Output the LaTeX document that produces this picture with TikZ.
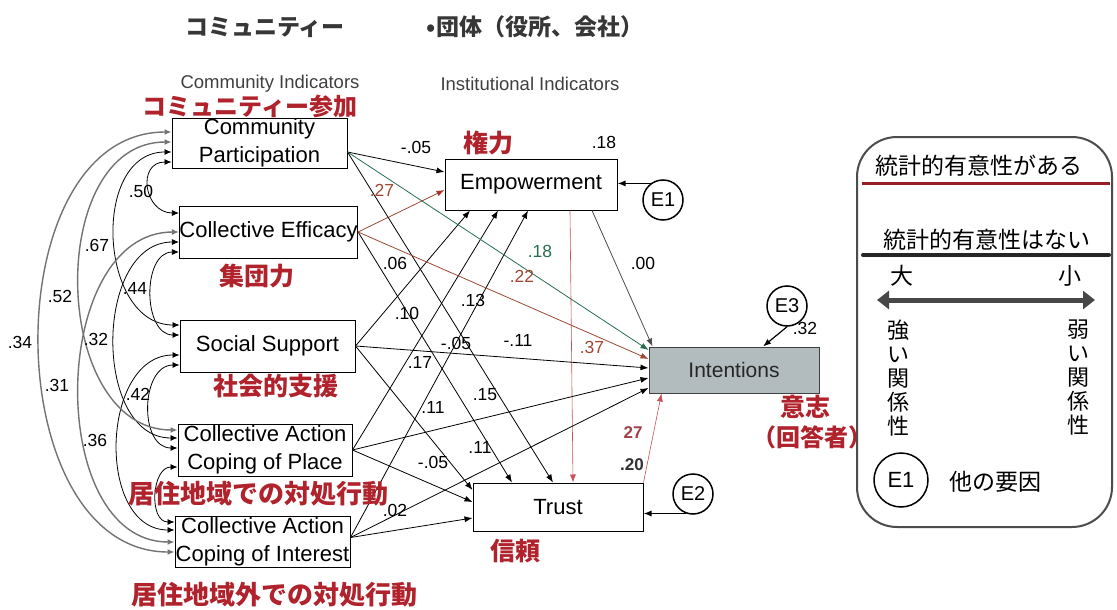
\documentclass[tikz,border=0pt]{standalone}
\usepackage{fontspec}
\setmainfont{Liberation Sans}
\newfontfamily\jp{Noto Sans CJK JP}
\usetikzlibrary{arrows.meta,calc}
\definecolor{jred}{RGB}{176,34,44}
\definecolor{brn}{RGB}{160,72,52}
\definecolor{grn}{RGB}{40,110,80}
\definecolor{pink}{RGB}{200,80,90}
\definecolor{hdr}{RGB}{55,55,55}
\definecolor{intfill}{RGB}{178,188,190}
\begin{document}
\begin{tikzpicture}[x=1pt,y=-1pt,
  box/.style={draw=black, line width=1pt, fill=white, inner sep=0pt, align=center,
    font=\fontsize{22}{28}\selectfont},
  coef/.style={font=\fontsize{17.5}{17.5}\selectfont, inner sep=0pt},
  jlab/.style={font=\jp\bfseries\fontsize{25}{25}\selectfont, text=jred, inner sep=0pt},
  hd/.style={font=\jp\bfseries\fontsize{23}{23}\selectfont, text=hdr, inner sep=0pt},
  sub/.style={font=\fontsize{18.5}{18.5}\selectfont, text=black!75, inner sep=0pt},
  arr/.style={-{Latex[length=8pt,width=6pt]}, line width=0.8pt},
  corr/.style={{Latex[length=7pt,width=6pt]}-{Latex[length=7pt,width=6pt]}, line width=0.8pt},
  corrg/.style={corr, draw=black!55, line width=1.4pt},
  err/.style={circle, draw, line width=1.5pt, fill=white, minimum size=40pt, inner sep=0pt,
    font=\fontsize{20}{20}\selectfont},
  leg/.style={font=\jp\fontsize{23}{24}\selectfont, inner sep=0pt, align=center}
]
\useasboundingbox (0,0) rectangle (1117,610);
\fill[white] (0,0) rectangle (1117,610);

% headings
\node[hd] (h1) at (265,27) {コミュニティー};
\node[hd] (h2) at (535,27) {•団体（役所、会社）};
\node[sub] (s1) at (270,84) {Community Indicators};
\node[sub] (s2) at (530,84) {Institutional Indicators};

% boxes
\node[box, minimum width=175, minimum height=50] (CP) at (259.5,143) {Community\\Participation};
\node[box, minimum width=177, minimum height=52] (CE) at (268.5,232) {Collective Efficacy};
\node[box, minimum width=175, minimum height=52] (SS) at (267.5,346) {Social Support};
\node[box, minimum width=174, minimum height=52] (CAP) at (265,450) {Collective Action\\Coping of Place};
\node[box, minimum width=175, minimum height=51] (CAI) at (262.5,541.5) {Collective Action\\Coping of Interest};
\node[box, minimum width=172, minimum height=51] (Emp) at (531,184.5) {Empowerment};
\node[box, minimum width=170, minimum height=48] (Trust) at (558,507) {Trust};
\node[box, fill=intfill, draw=black!75, minimum width=170, minimum height=46,
      font=\fontsize{21}{21}\selectfont\color{black!85}] (Int) at (734,370) {Intentions};
\node[err] (E1) at (663,200) {E1};
\node[err] (E2) at (693,494) {E2};
\node[err] (E3) at (787,306) {E3};

% correlations (left arcs)
\draw[corr] ([yshift=-19pt]CP.west) .. controls +(-35,0) and +(-35,0) .. ([yshift=19pt]CE.west);
\draw[corr] ([yshift=-20pt]CE.west) .. controls +(-37,0) and +(-37,0) .. ([yshift=11pt]SS.west);
\draw[corr] ([yshift=-19pt]SS.west) .. controls +(-39,0) and +(-39,0) .. ([yshift=2pt]CAP.west);
\draw[corr] ([yshift=-17pt]CAP.west) .. controls +(-26,0) and +(-26,0) .. ([yshift=19.5pt]CAI.west);
\draw[corr] ([yshift=-9pt]CP.west) .. controls +(-81,0) and +(-81,0) .. ([yshift=21pt]SS.west);
\draw[corr] ([yshift=-10pt]CE.west) .. controls +(-85,0) and +(-85,0) .. ([yshift=12pt]CAP.west);
\draw[corr] ([yshift=-9pt]SS.west) .. controls +(-79,0) and +(-79,0) .. ([yshift=11.5pt]CAI.west);
\draw[corrg] ([yshift=1pt]CP.west) .. controls +(-127,0) and +(-127,0) .. ([yshift=20pt]CAP.west);
\draw[corrg] (CE.west) .. controls +(-130,0) and +(-130,0) .. ([yshift=-0.5pt]CAI.west);
\draw[corrg] ([yshift=11pt]CP.west) .. controls +(-178,0) and +(-178,0) .. ([yshift=-10.5pt]CAI.west);

% paths to Empowerment
\draw[arr] ([yshift=-9pt]CP.east) -- ([yshift=12.5pt]Emp.west);
\draw[arr, draw=brn, -{Latex[length=8pt,width=6pt,fill=jred]}] (CE.east) -- ([yshift=-5.5pt]Emp.west);
\draw[arr] (SS.east) -- ([xshift=-61pt]Emp.south);
\draw[arr] (CAP.east) -- ([xshift=-33pt]Emp.south);
\draw[arr] ([yshift=4pt]CAI.east) -- ([xshift=-3pt]Emp.south);

% paths to Trust
\draw[arr] (CE.east) -- ([xshift=-46pt]Trust.north);
\draw[arr] ([yshift=-9pt]CP.east) -- ([xshift=-5pt]Trust.north);
\draw[arr, draw=pink, line width=0.6pt] ([xshift=39pt]Emp.south) -- ([xshift=15pt]Trust.north);
\draw[arr] (SS.east) -- ([yshift=17pt]Trust.west);
\draw[arr] (CAP.east) -- ([yshift=5pt]Trust.west);
\draw[arr] ([yshift=4pt]CAI.east) -- ([yshift=-11pt]Trust.west);

% paths to Intentions
\draw[arr, draw=grn] ([yshift=-9pt]CP.east) -- ([yshift=20pt]Int.west);
\draw[arr, draw=brn] (CE.east) -- ([yshift=11pt]Int.west);
\draw[arr] (SS.east) -- ([yshift=2pt]Int.west);
\draw[arr] (CAP.east) -- ([yshift=-8pt]Int.west);
\draw[arr] ([yshift=4pt]CAI.east) -- ([yshift=-18pt]Int.west);
\draw[arr, draw=black!70] ([xshift=61pt]Emp.south) -- ([xshift=4pt]Int.north west);
\draw[arr, draw=pink, line width=0.6pt] (Trust.north east) -- ([xshift=13pt]Int.south west);

% error terms
\draw[arr, line width=1.2pt] (E1.127) -- (E1.127 -| Emp.east);
\draw[arr, line width=1.2pt] (E2.250) -- (E2.250 -| Trust.east);
\draw[arr, line width=1.2pt] (E3.south) -- ([xshift=29pt]Int.north);

% coefficient labels
\node[coef] (c1) at (416,147) {-.05};
\node[coef] (c2) at (604,142) {.18};
\node[coef, text=brn] (c3) at (382,190) {.27};
\node[coef] (c4) at (395,263) {.06};
\node[coef, text=grn] (c5) at (540,251) {.18};
\node[coef, text=brn] (c6) at (522,276) {.22};
\node[coef] (c7) at (643,263) {.00};
\node[coef] (c8) at (473,300) {.13};
\node[coef] (c9) at (407,313) {.10};
\node[coef] (c10) at (456,343) {-.05};
\node[coef] (c11) at (518,340) {-.11};
\node[coef, text=brn] (c12) at (592,347) {.37};
\node[coef] (c13) at (805,328) {.32};
\node[coef] (c14) at (420,362) {.17};
\node[coef] (c15) at (485,395) {.15};
\node[coef] (c16) at (433,407) {.11};
\node[coef] (c17) at (480,447) {.11};
\node[coef] (c18) at (433,462) {-.05};
\node[coef] (c19) at (395,510) {.02};
\node[coef, text=pink!80!black, font=\bfseries\fontsize{17}{17}\selectfont] (c20) at (633,433) {27};
\node[coef, text=black!80, font=\bfseries\fontsize{17}{17}\selectfont] (c21) at (632,465) {.20};
% correlation labels
\node[coef] (r1) at (141,191) {.50};
\node[coef] (r2) at (97,245) {.67};
\node[coef] (r3) at (60,296) {.52};
\node[coef] (r4) at (135,288) {.44};
\node[coef] (r5) at (20,342) {.34};
\node[coef] (r6) at (96,339) {.32};
\node[coef] (r7) at (57,385) {.31};
\node[coef] (r8) at (138,394) {.42};
\node[coef] (r9) at (95,440) {.36};

% red Japanese labels
\node[jlab, font=\jp\bfseries\fontsize{24}{24}\selectfont] (j1) at (250,106) {コミュニティー参加};
\node[jlab] (j2) at (488,143) {権力};
\node[jlab] (j3) at (257,276) {集団力};
\node[jlab] (j4) at (276,386) {社会的支援};
\node[jlab, font=\jp\bfseries\fontsize{26}{26}\selectfont] (j5) at (258,494) {居住地域での対処行動};
\node[jlab, font=\jp\bfseries\fontsize{26}{26}\selectfont] (j6) at (274,595) {居住地域外での対処行動};
\node[jlab] (j7) at (515,551) {信頼};
\node[jlab] (j8) at (805,407) {意志};
\node[jlab, font=\jp\bfseries\fontsize{24}{24}\selectfont] (j9) at (812,437) {（回答者）};

% legend
\draw[draw=black!70, line width=2pt, fill=white, rounded corners=40pt] (857,137) rectangle (1112,527);
\node[leg] (l1) at (979,166) {統計的有意性がある};
\draw[draw=jred!85!black, line width=3pt] (862,183) -- (1110,183);
\node[leg] (l2) at (987,240) {統計的有意性はない};
\draw[draw=black!85, line width=4pt, line cap=round] (863,255) -- (1109,255);
\node[leg] (l3) at (902,276) {大};
\node[leg] (l4) at (1070,276) {小};
\draw[draw=black!72, line width=5pt, {Triangle[length=12pt,width=18pt]}-{Triangle[length=12pt,width=18pt]}] (877,300) -- (1095,300);
\node[leg, font=\jp\fontsize{22}{24}\selectfont] (l5) at (898,378) {強\\い\\関\\係\\性};
\node[leg, font=\jp\fontsize{22}{24}\selectfont] (l6) at (1078,378) {弱\\い\\関\\係\\性};
\node[circle, draw, line width=1.5pt, minimum size=54pt, inner sep=0pt, font=\fontsize{22}{22}\selectfont] (l7) at (901,480) {E1};
\node[leg] (l8) at (995,482) {他の要因};
\end{tikzpicture}
\end{document}
